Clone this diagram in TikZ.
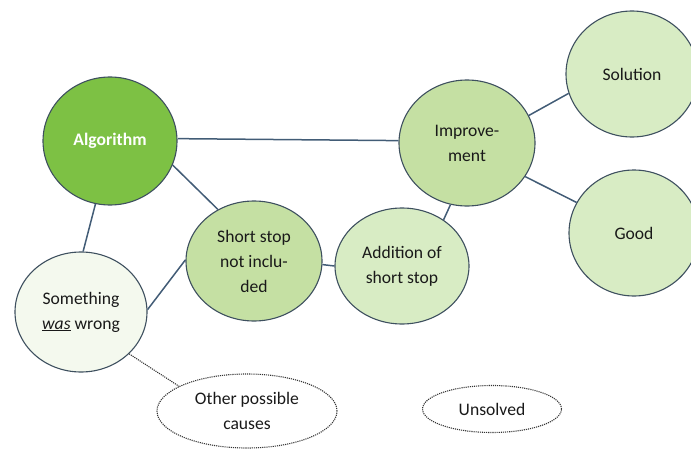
\documentclass[tikz,border=0pt]{standalone}
\usepackage{xcolor}
\usepackage{fontspec}
\setmainfont{Carlito}
\usetikzlibrary{shapes.geometric}

\definecolor{algfill}{RGB}{125,193,68}
\definecolor{midfill}{RGB}{197,224,163}
\definecolor{lightfill}{RGB}{216,236,196}
\definecolor{palefill}{RGB}{244,249,238}
\definecolor{rim}{RGB}{62,80,95}
\definecolor{linkcol}{RGB}{66,92,118}

\begin{document}
\begin{tikzpicture}[x=1pt,y=-1pt,
	bubble/.style={ellipse,draw=rim,line width=1.1pt,inner sep=0pt,align=center,
		font=\fontsize{17.6}{25}\selectfont,text=black!90},
	dotbubble/.style={ellipse,draw=black!80,line width=1.1pt,densely dotted,inner sep=0pt,
		align=center,font=\fontsize{17.6}{25}\selectfont,text=black!90},
	link/.style={draw=linkcol,line width=1.5pt}]
	\useasboundingbox (0,0) rectangle (691,450);
	\node[bubble,fill=algfill,minimum width=134pt,minimum height=128pt,text=white,font=\fontsize{17.6}{25}\selectfont\bfseries] at (110,141) (alg) {Algorithm};
	\node[bubble,fill=palefill,minimum width=132pt,minimum height=120pt] at (81,312) (wrong) {Something\\\underline{\textit{was}} wrong};
	\node[bubble,fill=midfill,minimum width=136pt,minimum height=120pt] at (254,261) (short) {Short stop\\not inclu-\\ded};
	\node[bubble,fill=lightfill,minimum width=134pt,minimum height=116pt] at (402,266) (add) {Addition of\\short stop};
	\node[bubble,fill=midfill,minimum width=136pt,minimum height=126pt] at (467,143) (impr) {Improve-\\ment};
	\node[bubble,fill=lightfill,minimum width=132pt,minimum height=126pt] at (632,74) (sol) {Solution};
	\node[bubble,fill=lightfill,minimum width=130pt,minimum height=126pt] at (634,233) (good) {Good};
	\node[dotbubble,minimum width=180pt,minimum height=74pt] at (247,411) (other) {Other possible\\causes};
	\node[dotbubble,minimum width=139pt,minimum height=47pt] at (492,409) (unsolved) {Unsolved};
	\draw[link] (alg.2) -- (impr.178);
	\draw[link] (alg.-21) -- (short.125);
	\draw[link] (alg.-103) -- (wrong.88);
	\draw[link] (wrong.2) -- (short.179);
	\draw[link] (short.-3) -- (add.180);
	\draw[link] (add.48) -- (impr.-105);
	\draw[link] (impr.24) -- (sol.-163);
	\draw[link] (impr.-30) -- (good.152);
	\draw[draw=black!80,line width=1.1pt,densely dotted] (wrong.-41) -- (other.160);
\end{tikzpicture}
\end{document}
